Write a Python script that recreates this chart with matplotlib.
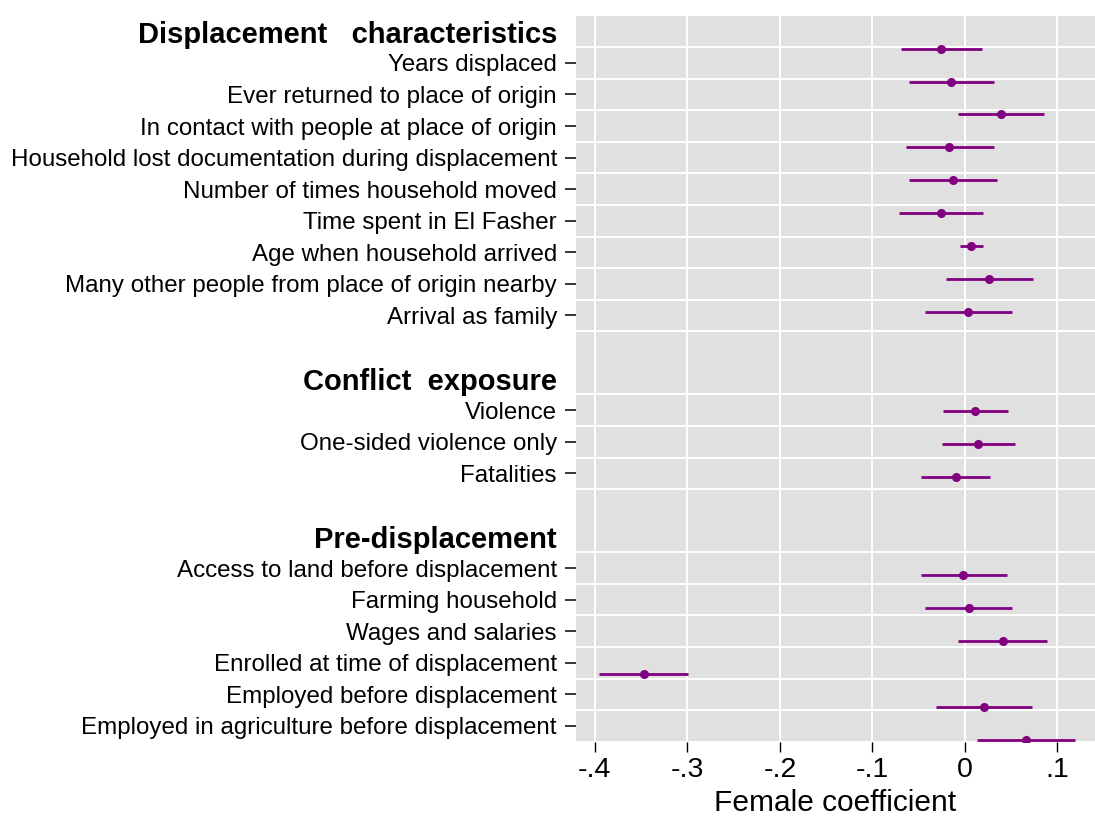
import numpy as np
import matplotlib.pyplot as plt

plt.rcParams['font.family'] = ['Liberation Sans', 'DejaVu Sans']

headers = ["Displacement   characteristics", "Conflict  exposure", "Pre-displacement"]

labels1 = ["Years displaced", "Ever returned to place of origin",
           "In contact with people at place of origin",
           "Household lost documentation during displacement",
           "Number of times household moved", "Time spent in El Fasher",
           "Age when household arrived",
           "Many other people from place of origin nearby", "Arrival as family"]
coef1 = [-0.026, -0.015, 0.039, -0.017, -0.013, -0.026, 0.007, 0.026, 0.003]
lo1 = [-0.069, -0.061, -0.007, -0.064, -0.061, -0.071, -0.005, -0.021, -0.043]
hi1 = [0.018, 0.031, 0.085, 0.031, 0.035, 0.019, 0.019, 0.074, 0.051]

labels2 = ["Violence", "One-sided violence only", "Fatalities"]
coef2 = [0.011, 0.014, -0.010]
lo2 = [-0.024, -0.025, -0.048]
hi2 = [0.047, 0.054, 0.027]

labels3 = ["Access to land before displacement", "Farming household",
           "Wages and salaries", "Enrolled at time of displacement",
           "Employed before displacement",
           "Employed in agriculture before displacement"]
coef3 = [-0.002, 0.004, 0.041, -0.347, 0.021, 0.066]
lo3 = [-0.048, -0.043, -0.007, -0.396, -0.031, 0.013]
hi3 = [0.045, 0.051, 0.089, -0.299, 0.073, 0.119]

xticks = [-0.4, -0.3, -0.2, -0.1, 0.0, 0.1]
xticklabels = ["-.4", "-.3", "-.2", "-.1", "0", ".1"]

groups = [(labels1, coef1, lo1, hi1), (labels2, coef2, lo2, hi2),
          (labels3, coef3, lo3, hi3)]

# row layout: header, items, blank line between groups
ytick_pos, ytick_lab, header_pos = [], [], []
pt_rows, pt_coef, pt_lo, pt_hi = [], [], [], []
grid_rows = []
row = 0
for g, (labs, c, lo, hi) in enumerate(groups):
    header_pos.append(row)
    row += 1
    for i in range(len(labs)):
        ytick_pos.append(row)
        ytick_lab.append(labs[i])
        pt_rows.append(row)
        pt_coef.append(c[i])
        pt_lo.append(lo[i])
        pt_hi.append(hi[i])
        grid_rows.append(row - 0.5)
        row += 1
    grid_rows.append(row - 0.5)
    row += 1
nrows = row - 1

purple = '#800080'
tick_len = 7.9
tick_pad = 5.8

fig = plt.figure(figsize=(10.95, 8.19), dpi=100)
ax = fig.add_axes([0.526, 0.0944, 0.474, 0.8866])
ax.set_facecolor('#e0e0e0')
for s in ax.spines.values():
    s.set_visible(False)

ax.set_xlim(-0.4205, 0.1406)
ax.set_ylim(nrows - 0.5, -0.5)

ax.set_xticks(xticks)
ax.set_xticklabels(xticklabels, fontsize=20.5)
ax.tick_params(axis='x', length=7.2, width=1, pad=3.5, color='black')

ax.set_yticks(ytick_pos)
ax.set_yticklabels(ytick_lab, fontsize=17.4)
ax.tick_params(axis='y', length=tick_len, width=1.1, pad=tick_pad, color='black')
ax.set_yticks(grid_rows, minor=True)
ax.tick_params(axis='y', which='minor', length=0)

# group headings, aligned with the tick labels but without a tick
for g in range(len(headers)):
    ax.annotate(headers[g], xy=(0, header_pos[g]),
                xycoords=ax.get_yaxis_transform(),
                xytext=(-(tick_len + tick_pad), -2.5), textcoords='offset points',
                ha='right', va='center', fontsize=21, fontweight='bold')

ax.grid(axis='x', which='major', color='white', linewidth=1.4)
ax.grid(axis='y', which='minor', color='white', linewidth=1.4)
ax.set_axisbelow(True)

ax.set_xlabel("Female coefficient", fontsize=21.5, labelpad=5)

# markers sit on their own vertical scale, slightly off the label rows
axp = ax.twinx()
axp.set_ylim(22.05, -0.005)
axp.set_yticks([])
for s in axp.spines.values():
    s.set_visible(False)
axp.hlines(pt_rows, pt_lo, pt_hi, color=purple, linewidth=2.0)
axp.plot(pt_coef, pt_rows, 'o', color=purple, markersize=5.5)
axp.set_xlim(ax.get_xlim())

fig.savefig("out.png", dpi=100)
